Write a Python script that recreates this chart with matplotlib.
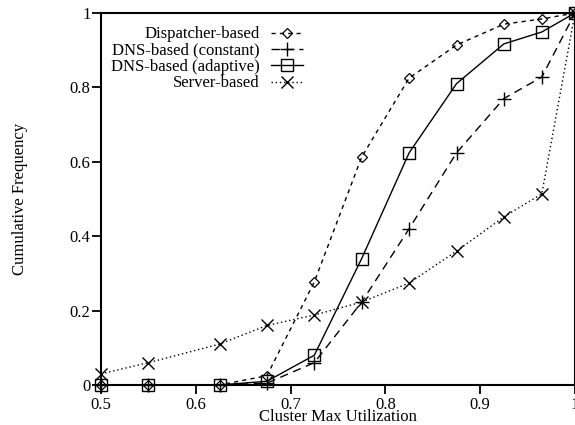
import numpy as np
import matplotlib
matplotlib.use('Agg')
import matplotlib.pyplot as plt

plt.rcParams['font.family'] = ['Liberation Serif', 'DejaVu Serif']
plt.rcParams['font.size'] = 12

# data
util = [0.5, 0.55, 0.625, 0.675, 0.725, 0.775, 0.825, 0.875, 0.925, 0.965, 1.0]
dispatcher = [0.0, 0.0, 0.0, 0.025, 0.277, 0.613, 0.825, 0.914, 0.97, 0.984, 1.0]
dns_const = [0.0, 0.0, 0.0, 0.005, 0.06, 0.223, 0.42, 0.624, 0.77, 0.828, 1.0]
dns_adapt = [0.0, 0.0, 0.0, 0.01, 0.08, 0.34, 0.624, 0.81, 0.917, 0.949, 1.0]
server = [0.03, 0.06, 0.11, 0.16, 0.188, 0.223, 0.274, 0.36, 0.452, 0.514, 1.0]

labels = ['Dispatcher-based', 'DNS-based (constant)', 'DNS-based (adaptive)', 'Server-based']

fig = plt.figure(figsize=(5.75, 4.25), dpi=100)
ax = fig.add_axes([101/575, 40/425, 474/575, 372/425])

ax.plot(util, dispatcher, color='black', lw=1, ls=(0, (3, 3)), marker='D', ms=5,
        mfc='none', mew=0.9, clip_on=False, label=labels[0])
ax.plot(util, dns_const, color='black', lw=1, ls=(0, (6, 4)), marker='+', ms=10,
        mew=1, clip_on=False, label=labels[1])
ax.plot(util, dns_adapt, color='black', lw=1, ls='-', marker='s', ms=9,
        mfc='none', mew=1, clip_on=False, label=labels[2])
ax.plot(util, server, color='black', lw=1, ls=(0, (1, 2)), marker='x', ms=8,
        mew=1, clip_on=False, label=labels[3])

ax.set_xlim(0.5, 1.0)
ax.set_ylim(0, 1)
ax.set_xticks([0.5, 0.6, 0.7, 0.8, 0.9, 1.0])
ax.set_xticklabels(['0.5', '0.6', '0.7', '0.8', '0.9', '1'])
ax.set_yticks([0, 0.2, 0.4, 0.6, 0.8, 1.0])
ax.set_yticklabels(['0', '0.2', '0.4', '0.6', '0.8', '1'])
ax.tick_params(direction='out', length=6.5, width=1.3, pad=1, labelsize=12)
ax.tick_params(axis='x', pad=2)

for s in ax.spines.values():
    s.set_linewidth(1.5)

ax.set_xlabel('Cluster Max Utilization')
ax.set_ylabel('Cumulative Frequency')
ax.xaxis.set_label_coords(0.5, -0.086)
ax.xaxis.label.set_va('center')
ax.yaxis.set_label_coords(-0.17, 0.5)
ax.yaxis.label.set_va('center')

leg = ax.legend(loc='upper right', bbox_to_anchor=(0.426, 0.964), frameon=False,
                markerfirst=False, handlelength=1.9, handletextpad=0.7,
                labelspacing=0.02, borderpad=0, borderaxespad=0, fontsize=12)

fig.savefig('out.png', dpi=100)
